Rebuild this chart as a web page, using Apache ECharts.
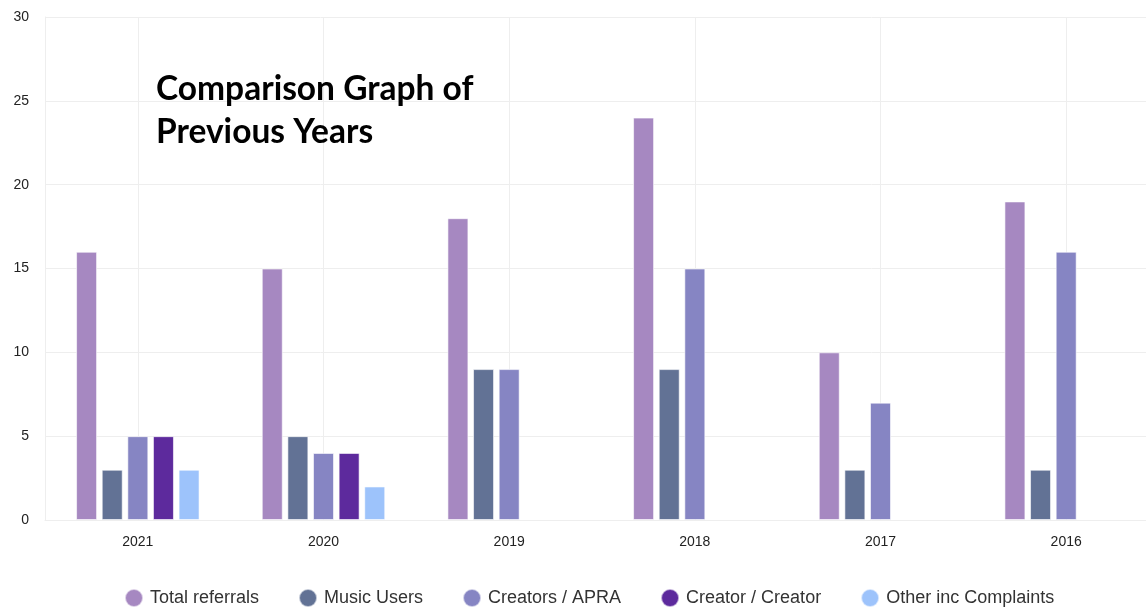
<!DOCTYPE html>
<html>
<head>
<meta charset="utf-8">
<script src="https://cdn.jsdelivr.net/npm/echarts@6/dist/echarts.min.js"></script>
<style>
html,body{margin:0;padding:0;background:#fff;}
#main{width:1146px;height:609px;}
</style>
</head>
<body>
<div id="main"></div>
<script>
const categories = ['2021', '2020', '2019', '2018', '2017', '2016'];
const seriesNames = ['Total referrals', 'Music Users', 'Creators / APRA', 'Creator / Creator', 'Other inc Complaints'];
const totalReferrals = [16, 15, 18, 24, 10, 19];
const musicUsers = [3, 5, 9, 9, 3, 3];
const creatorsApra = [5, 4, 9, 15, 7, 16];
const creatorCreator = [5, 4, null, null, null, null];
const otherComplaints = [3, 2, null, null, null, null];
const yTicks = [0, 5, 10, 15, 20, 25, 30];
const colors = ['#a688c1', '#627295', '#8685c3', '#5d2a9d', '#9dc3fb'];
const values = [totalReferrals, musicUsers, creatorsApra, creatorCreator, otherComplaints];

const chart = echarts.init(document.getElementById('main'), null, {renderer: 'canvas'});
chart.setOption({
  animation: false,
  color: colors,
  title: {
    text: 'Comparison Graph of\nPrevious Years',
    left: 151, top: 63,
    textStyle: {fontFamily: 'Lato', fontWeight: 'bold', fontSize: 33.5, color: '#000', lineHeight: 43}
  },
  legend: {
    top: 583, left: 119,
    icon: 'circle', itemWidth: 18, itemHeight: 18, itemGap: 39,
    textStyle: {fontFamily: 'Liberation Sans', fontSize: 18, color: '#333', padding: [0, 0, 0, 2]},
    data: seriesNames
  },
  grid: {left: 45, top: 17, width: 1114, bottom: 89, containLabel: false, outerBoundsMode: 'none'},
  xAxis: {
    type: 'category', data: categories,
    axisLine: {show: true, lineStyle: {color: '#eeeeee'}},
    axisTick: {show: false, alignWithLabel: true},
    axisLabel: {fontFamily: 'Liberation Sans', fontSize: 14, color: '#222', margin: 15},
    splitLine: {show: true, alignWithLabel: true, lineStyle: {color: '#eeeeee'}}
  },
  yAxis: {
    type: 'value', min: yTicks[0], max: yTicks[yTicks.length - 1], interval: 5,
    axisLine: {show: true, lineStyle: {color: '#eeeeee'}},
    axisTick: {show: false},
    axisLabel: {fontFamily: 'Liberation Sans', fontSize: 14, color: '#222', margin: 16},
    splitLine: {lineStyle: {color: '#eeeeee'}}
  },
  series: seriesNames.map((n, i) => ({
    name: n, type: 'bar', data: values[i],
    barWidth: 21, barGap: '22%',
    itemStyle: {borderColor: 'rgba(255,255,255,0.6)', borderWidth: 1}
  }))
});
</script>
</body>
</html>
